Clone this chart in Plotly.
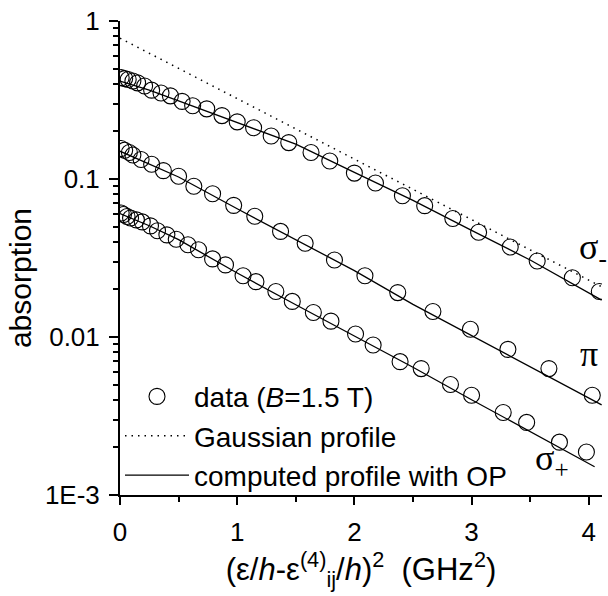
import math
import plotly.graph_objects as go

# ---- measured absorption (B = 1.5 T) versus squared detuning ----
x_sm = [0.01, 0.04, 0.07, 0.11, 0.15, 0.21, 0.27, 0.35, 0.43, 0.53, 0.62, 0.74, 0.87, 1.00,
        1.14, 1.29, 1.44, 1.63, 1.79, 2.00, 2.18, 2.41, 2.60, 2.84, 3.06, 3.33, 3.56, 3.86, 4.09]
y_sm = [0.438, 0.432, 0.426, 0.417, 0.406, 0.388, 0.365, 0.350, 0.336, 0.310, 0.291, 0.278,
        0.252, 0.230, 0.211, 0.187, 0.170, 0.147, 0.130, 0.109, 0.0944, 0.0783, 0.0678,
        0.0562, 0.0460, 0.0371, 0.0303, 0.0237, 0.0194]

x_pi = [0.01, 0.04, 0.08, 0.11, 0.18, 0.27, 0.37, 0.50, 0.63, 0.79, 0.97, 1.15, 1.37, 1.58,
        1.83, 2.09, 2.37, 2.67, 2.99, 3.31, 3.66, 4.03]
y_pi = [0.156, 0.152, 0.147, 0.142, 0.133, 0.124, 0.113, 0.104, 0.090, 0.0806, 0.0681,
        0.0581, 0.0466, 0.0392, 0.0307, 0.0244, 0.0191, 0.0145, 0.0112, 0.00835, 0.00631,
        0.00428]

x_sp = [0.01, 0.03, 0.06, 0.09, 0.14, 0.19, 0.26, 0.32, 0.40, 0.48, 0.58, 0.67, 0.79, 0.90,
        1.05, 1.16, 1.33, 1.47, 1.65, 1.80, 2.01, 2.16, 2.39, 2.57, 2.82, 3.00, 3.27, 3.47,
        3.75, 3.98]
y_sp = [0.0609, 0.0596, 0.0579, 0.0567, 0.0551, 0.0535, 0.0505, 0.0470, 0.0443, 0.0416,
        0.0384, 0.0357, 0.0312, 0.0286, 0.0244, 0.0224, 0.0194, 0.0168, 0.0143, 0.0126,
        0.01044, 0.0089, 0.00698, 0.00631, 0.00501, 0.00428, 0.00333, 0.00288, 0.00216,
        0.00187]

# ---- computed profiles with optical pumping ----
x_calc = [0.0, 0.25, 0.5, 1.0, 1.5, 2.0, 2.5, 3.0, 3.5, 4.11]
y_calc_sm = [0.416, 0.365, 0.312, 0.227, 0.166, 0.110, 0.0733, 0.0473, 0.0307, 0.0171]
y_calc_pi = [0.150, 0.124, 0.103, 0.0648, 0.0414, 0.0263, 0.0161, 0.0102, 0.00642, 0.00372]
x_calc_sp = [0.0, 0.25, 0.5, 1.0, 1.5, 2.0, 2.5, 3.0, 3.5, 4.05]
y_calc_sp = [0.0604, 0.0506, 0.0413, 0.0254, 0.0160, 0.0102, 0.00643, 0.00401, 0.00253,
             0.00151]

# ---- Gaussian profile ----
x_gauss = [0.0, 4.11]
y_gauss = [0.779, 0.0208]

# ---- axis ticks ----
y_tickvals = [0.001, 0.01, 0.1, 1]
y_ticktext = ["1E-3", "0.01", "0.1", "1"]
x_tickvals = [0, 1, 2, 3, 4]

# ---- polarisation labels: (text, x, y) ----
pol_labels = [("σ<sub>-</sub>", 3.90, 0.036),
              ("π", 3.91, 0.0078),
              ("σ<sub>+</sub>", 3.52, 0.00165)]

FONT = "Liberation Sans, Arial, sans-serif"
marker_style = dict(symbol="circle-open", size=16, color="black", line=dict(width=1.1, color="black"))
calc_style = dict(color="black", width=1.3)

fig = go.Figure()

# data series
for i, (xs, ys) in enumerate([(x_sm, y_sm), (x_pi, y_pi), (x_sp, y_sp)]):
    fig.add_trace(go.Scatter(x=xs, y=ys, mode="markers", marker=marker_style,
                             name="data (<i>B</i>=1.5 T)", showlegend=(i == 0),
                             legendrank=1))

# Gaussian profile
fig.add_trace(go.Scatter(x=x_gauss, y=y_gauss, mode="lines",
                         line=dict(color="black", width=1.5, dash="1.5px,5px"),
                         name="Gaussian profile", legendrank=2))

# computed profiles
for i, (xs, ys) in enumerate([(x_calc, y_calc_sm), (x_calc, y_calc_pi), (x_calc_sp, y_calc_sp)]):
    fig.add_trace(go.Scatter(x=xs, y=ys, mode="lines", line=calc_style,
                             name="computed profile with OP", showlegend=(i == 0),
                             legendrank=3))

# polarisation labels (log axis: annotation y is given in decades)
label_font = dict(family="Liberation Serif, Times New Roman, serif", size=36, color="black")
for text, lx, ly in pol_labels:
    fig.add_annotation(x=lx, y=math.log10(ly), text=text, showarrow=False,
                       xanchor="left", yanchor="middle", font=label_font)

# y-axis title, set slightly below the plot's vertical centre
fig.add_annotation(xref="paper", yref="paper", x=-0.205, y=0.458, text="absorption",
                   textangle=-90, showarrow=False, xanchor="center", yanchor="middle",
                   font=dict(size=30))

fig.update_layout(
    width=608, height=596,
    margin=dict(l=120, r=6, t=15, b=101),
    paper_bgcolor="white", plot_bgcolor="white",
    font=dict(family=FONT, size=26, color="black"),
    showlegend=True,
    legend=dict(x=0.0, y=-0.012, xanchor="left", yanchor="bottom",
                bgcolor="rgba(0,0,0,0)", font=dict(size=28),
                itemwidth=64, tracegroupgap=0),
    xaxis=dict(
        range=[0, 4.113], tickvals=x_tickvals, ticks="outside", ticklen=8, tickwidth=2,
        tickcolor="black", showline=True, linewidth=2, linecolor="black",
        showgrid=False, zeroline=False, ticklabelstandoff=5,
        minor=dict(dtick=0.5, ticks="outside", ticklen=5, tickwidth=2, tickcolor="black",
                   showgrid=False),
        title=dict(text="(ε/<i>h</i>-ε<sup>(4)</sup><sub>ij</sub>/<i>h</i>)<sup>2</sup>\u00a0\u00a0(GHz<sup>2</sup>)",
                   font=dict(size=31), standoff=8),
    ),
    yaxis=dict(
        type="log", range=[-3, 0], tickvals=y_tickvals, ticktext=y_ticktext,
        ticks="outside", ticklen=9, tickwidth=2, tickcolor="black",
        showline=True, linewidth=2, linecolor="black", showgrid=False, zeroline=False,
        ticklabelstandoff=4,
        minor=dict(dtick="D1", ticks="outside", ticklen=5, tickwidth=2, tickcolor="black",
                   showgrid=False),
    ),
)

fig.write_html("out.html")
